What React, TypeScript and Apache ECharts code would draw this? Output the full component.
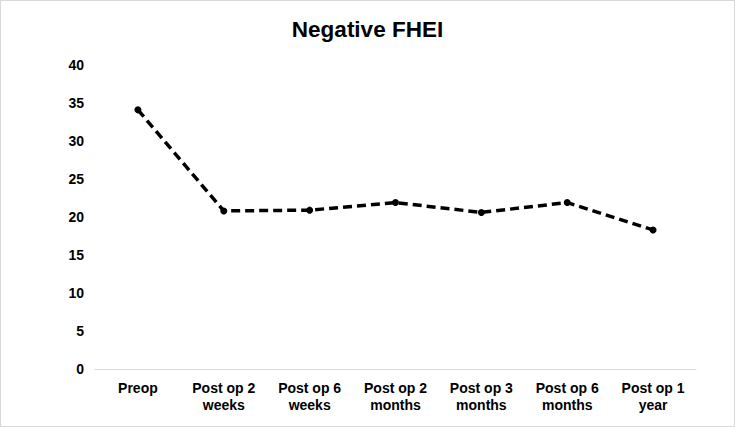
import React, { useEffect, useRef } from "react";
import * as echarts from "echarts";

const categories = [
  "Preop",
  "Post op 2\nweeks",
  "Post op 6\nweeks",
  "Post op 2\nmonths",
  "Post op 3\nmonths",
  "Post op 6\nmonths",
  "Post op 1\nyear",
];
const values = [34.1, 20.8, 20.9, 21.9, 20.6, 21.9, 18.3];
const yTicks = { min: 0, max: 40, interval: 5 };

export default function App() {
  const ref = useRef<HTMLDivElement>(null);
  useEffect(() => {
    document.body.style.margin = "0";
    const chart = echarts.init(ref.current!, null, { renderer: "svg" });
    chart.setOption({
      animation: false,
      backgroundColor: "#ffffff",
      title: {
        text: "Negative FHEI",
        left: "center",
        top: 12,
        textStyle: {
          fontFamily: "Liberation Sans, Arial, sans-serif",
          fontWeight: "bold",
          fontSize: 22.5,
          color: "#000",
        },
      },
      grid: { left: 94, right: 38, top: 64, bottom: 57, containLabel: false },
      xAxis: {
        type: "category",
        data: categories,
        boundaryGap: true,
        axisLine: { show: true, lineStyle: { color: "#d9d9d9", width: 1 } },
        axisTick: { show: false },
        axisLabel: {
          interval: 0,
          margin: 10,
          color: "#000",
          fontFamily: "Liberation Sans, Arial, sans-serif",
          fontWeight: "bold",
          fontSize: 14,
          lineHeight: 17,
        },
      },
      yAxis: {
        type: "value",
        min: yTicks.min,
        max: yTicks.max,
        interval: yTicks.interval,
        axisLine: { show: false },
        axisTick: { show: false },
        splitLine: { show: false },
        axisLabel: {
          margin: 11,
          color: "#000",
          fontFamily: "Liberation Sans, Arial, sans-serif",
          fontWeight: "bold",
          fontSize: 14,
        },
      },
      series: [
        {
          type: "line",
          data: values,
          symbol: "circle",
          symbolSize: 7,
          itemStyle: { color: "#000" },
          lineStyle: { color: "#000", width: 3.5, type: [9, 5] },
        },
      ],
    });
    return () => chart.dispose();
  }, []);
  return (
    <div
      style={{
        position: "absolute",
        left: 0,
        top: 0,
        width: 735,
        height: 427,
        boxSizing: "border-box",
        border: "1px solid #d9d9d9",
      }}
    >
      <div ref={ref} style={{ width: 733, height: 425 }} />
    </div>
  );
}
